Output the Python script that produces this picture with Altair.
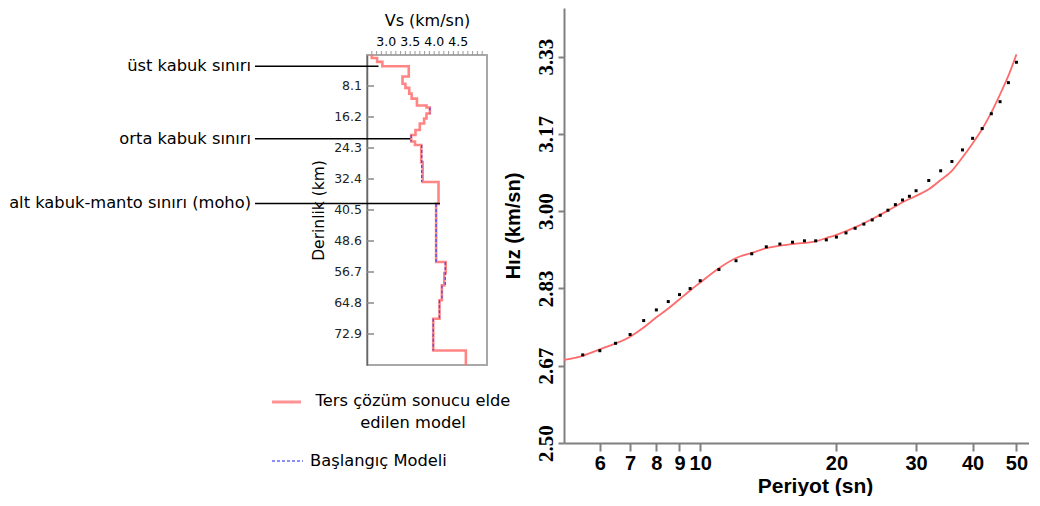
import altair as alt
import pandas as pd

# ---------------- Left panel: Vs-depth profile ----------------
# inversion result: layer top depth (km) and Vs (km/sn)
red_top = [0.0, 0.8, 1.8, 2.95, 5.6, 7.5, 8.6, 10.1, 11.4, 13.2, 13.7, 15.3, 16.6, 17.9,
           19.6, 20.9, 22.6, 23.5, 28.0, 33.2, 38.9, 54.1, 57.0, 60.2, 64.1, 68.9, 77.2]
red_vs = [2.70, 2.81, 2.92, 3.47, 3.34, 3.40, 3.48, 3.53, 3.64, 3.84, 3.91, 3.84, 3.79, 3.70,
          3.61, 3.52, 3.60, 3.73, 3.76, 4.09, 4.04, 4.24, 4.21, 4.16, 4.11, 3.98, 4.66]
depth_bottom = 81.0

# initial model (dashed segments)
blue_top = [13.7, 20.9, 23.5, 38.9, 54.1, 60.2, 64.1, 68.9]
blue_bot = [15.3, 22.6, 33.2, 54.1, 60.2, 64.1, 68.9, 77.2]
blue_vs = [3.91, 3.52, 3.74, 4.04, 4.23, 4.16, 4.11, 3.98]

depth_ticks = [8.1, 16.2, 24.3, 32.4, 40.5, 48.6, 56.7, 64.8, 72.9]
vs_labels = [3.0, 3.5, 4.0, 4.5]
vs_minor = [2.7, 2.8, 2.9, 3.0, 3.1, 3.2, 3.3, 3.4, 3.5, 3.6, 3.7, 3.8, 3.9, 4.0,
            4.1, 4.2, 4.3, 4.4, 4.5, 4.6, 4.7, 4.8, 4.9, 5.0]

ann_labels = ["üst kabuk sınırı", "orta kabuk sınırı", "alt kabuk-manto sınırı (moho)"]
ann_depth = [2.95, 21.9, 38.8]
ann_vs = [2.84, 3.50, 4.12]

legend_red_text = ["Ters çözüm sonucu elde", "edilen model"]
legend_blue_text = "Başlangıç Modeli"

# ---------------- Right panel: dispersion curve ----------------
obs_period = [5.5, 6, 6.5, 7, 7.5, 8, 8.5, 9, 9.5, 10, 11, 12, 13, 14, 15, 16, 17, 18, 19, 20,
              21, 22, 23, 24, 25, 26, 27, 28, 29, 30, 32, 34, 36, 38, 40, 42, 44, 46, 48, 50]
obs_vel = [2.690, 2.699, 2.715, 2.734, 2.764, 2.787, 2.805, 2.820, 2.833, 2.850,
           2.874, 2.893, 2.908, 2.923, 2.929, 2.933, 2.936, 2.936, 2.938, 2.944,
           2.953, 2.963, 2.972, 2.981, 2.991, 3.002, 3.014, 3.024, 3.032, 3.044,
           3.066, 3.087, 3.107, 3.132, 3.157, 3.178, 3.210, 3.236, 3.277, 3.321]

model_period = [5, 5.5, 6, 7, 7.5, 8, 8.5, 9, 9.5, 10, 11, 12, 13, 14, 16, 18, 19, 20, 22, 24,
                26, 28, 30, 32, 34, 36, 38, 40, 42, 44, 46, 48, 50]
model_vel = [2.679, 2.688, 2.702, 2.729, 2.749, 2.771, 2.790, 2.810, 2.829, 2.846,
             2.877, 2.899, 2.910, 2.920, 2.929, 2.935, 2.942, 2.949, 2.965, 2.983,
             3.001, 3.019, 3.033, 3.047, 3.067, 3.087, 3.116, 3.146, 3.177, 3.213,
             3.252, 3.292, 3.338]

period_ticks = [6, 7, 8, 9, 10, 20, 30, 40, 50]
vel_ticks = [2.5, 2.6667, 2.8333, 3.0, 3.1667, 3.3333]

# ---------------- tables ----------------
red_bot = red_top[1:] + [depth_bottom]
rows = []
for i, (t, b, v) in enumerate(zip(red_top, red_bot, red_vs)):
    rows.append({"vs": v, "depth": t, "o": 2 * i})
    rows.append({"vs": v, "depth": b, "o": 2 * i + 1})
prof_df = pd.DataFrame(rows)
blue_df = pd.DataFrame({"vs": blue_vs, "top": blue_top, "bot": blue_bot})
tick_df = pd.DataFrame({"d": depth_ticks, "lab": [f"{d:.1f}" for d in depth_ticks]})
vs_lab_df = pd.DataFrame({"vs": vs_labels, "lab": [f"{v:.1f}" for v in vs_labels]})
minor_df = pd.DataFrame({"vs": vs_minor})
ann_df = pd.DataFrame({"label": ann_labels, "depth": ann_depth, "vs": ann_vs})
one = pd.DataFrame({"k": [0]})
obs_df = pd.DataFrame({"T": obs_period, "v": obs_vel})
model_df = pd.DataFrame({"T": model_period, "v": model_vel})

FONT = "DejaVu Sans"

vs_scale = alt.Scale(domain=[2.6, 5.1], nice=False, zero=False)
dep_scale = alt.Scale(domain=[0, depth_bottom], reverse=True, nice=False, zero=False)

x_axis_l = alt.Axis(
    orient="top", values=vs_labels, labels=False, ticks=False, domain=False, grid=False,
    title="Vs (km/sn)", titleFont=FONT, titleFontSize=16, titleFontWeight="normal",
    titleColor="black", titlePadding=27)
y_axis_l = alt.Axis(
    values=depth_ticks, labels=False, ticks=False, grid=False,
    domainColor="#666", domainWidth=1.5,
    title="Derinlik (km)", titleFont=FONT, titleFontSize=15.5, titleFontWeight="normal",
    titleColor="black", titlePadding=41)

red_line = alt.Chart(prof_df).mark_line(color="#ff7070", strokeWidth=2.6, opacity=0.85).encode(
    x=alt.X("vs:Q", scale=vs_scale, axis=x_axis_l),
    y=alt.Y("depth:Q", scale=dep_scale, axis=y_axis_l),
    order=alt.Order("o:Q"))
blue_line = alt.Chart(blue_df).mark_rule(color="#4b4bf0", strokeWidth=1.3, strokeDash=[3, 2]).encode(
    x="vs:Q", y="top:Q", y2="bot:Q")
# depth ticks (inward) and their labels
in_ticks = alt.Chart(tick_df).mark_rule(color="#8a8a8a", strokeWidth=1.5).encode(
    y="d:Q", x=alt.value(0), x2=alt.value(7))
depth_labels = alt.Chart(tick_df).mark_text(
    align="right", baseline="middle", font=FONT, fontSize=12.5, color="#222").encode(
    y="d:Q", x=alt.value(-5), text="lab:N")
# Vs ticks (top) and their labels
top_ticks = alt.Chart(minor_df).mark_rule(color="#9a9a9a", strokeWidth=1).encode(
    x="vs:Q", y=alt.value(-4), y2=alt.value(0))
vs_tick_labels = alt.Chart(vs_lab_df).mark_text(
    align="center", baseline="bottom", font=FONT, fontSize=12.5, color="black").encode(
    x="vs:Q", y=alt.value(-6), text="lab:N")
ann_rules = alt.Chart(ann_df).mark_rule(color="black", strokeWidth=1.5).encode(
    y="depth:Q", x="vs:Q", x2=alt.value(-112))
ann_texts = alt.Chart(ann_df).mark_text(
    align="right", baseline="middle", font=FONT, fontSize=16.3, color="black").encode(
    y="depth:Q", x=alt.value(-116), text="label:N")

leg_red = alt.Chart(one).mark_rule(color="#ff8080", strokeWidth=3, opacity=0.85).encode(
    x=alt.value(-95), x2=alt.value(-66), y=alt.value(347))
leg_red_txt = alt.Chart(one).mark_text(
    align="center", baseline="top", font=FONT, fontSize=16.3, lineHeight=22, color="black").encode(
    x=alt.value(46), y=alt.value(338), text=alt.value(legend_red_text))
leg_blue = alt.Chart(one).mark_rule(color="#6a6af5", strokeWidth=1.3, strokeDash=[3, 2]).encode(
    x=alt.value(-95), x2=alt.value(-64), y=alt.value(406))
leg_blue_txt = alt.Chart(one).mark_text(
    align="left", baseline="middle", font=FONT, fontSize=16.3, color="black").encode(
    x=alt.value(-57), y=alt.value(406), text=alt.value(legend_blue_text))

left = alt.layer(red_line, blue_line, in_ticks, depth_labels, top_ticks, vs_tick_labels,
                 ann_rules, ann_texts, leg_red, leg_red_txt, leg_blue, leg_blue_txt).properties(
    width=120, height=310,
    view=alt.ViewBackground(stroke="#a8a8a8", strokeWidth=2))

# an invisible strip above the profile, so the profile's top axis sits below the
# top edge of the right panel
spacer = alt.Chart(one).mark_rule(opacity=0).encode(
    x=alt.value(0), x2=alt.value(1), y=alt.value(0)).properties(
    width=120, height=3, view=alt.ViewBackground(stroke=None))
left_col = alt.vconcat(spacer, left, spacing=0)

# ---------------- right chart ----------------
x_scale_r = alt.Scale(type="log", domain=[5, 53.3], nice=False)
y_scale_r = alt.Scale(domain=[2.5, 3.438], nice=False, zero=False)
x_axis_r = alt.Axis(
    values=period_ticks, format="d", title="Periyot (sn)",
    titleFont="Liberation Sans", titleFontSize=21, titleFontWeight="bold", titleColor="black",
    titlePadding=2, titleX=251,
    labelFont="Liberation Sans", labelFontSize=20, labelFontWeight="bold", labelColor="black",
    labelPadding=2, labelOverlap=False, labelFlush=False,
    tickSize=8, tickWidth=2, tickColor="#808080", domainColor="#808080", domainWidth=2, grid=False)
y_axis_r = alt.Axis(
    values=vel_ticks, format=".2f", title="Hız (km/sn)",
    titleFont="Liberation Sans", titleFontSize=20, titleFontWeight="bold", titleColor="black",
    titlePadding=12,
    labelFont="Liberation Serif", labelFontSize=21, labelFontWeight="bold", labelColor="black",
    labelAngle=270, labelAlign="center", labelBaseline="bottom", labelPadding=2,
    labelOverlap=False,
    tickSize=6, tickWidth=2, tickColor="#808080", domainColor="#808080", domainWidth=2, grid=False)

model_line = alt.Chart(model_df).mark_line(
    color="#ff6b6b", strokeWidth=1.8, interpolate="monotone").encode(
    x=alt.X("T:Q", scale=x_scale_r, axis=x_axis_r),
    y=alt.Y("v:Q", scale=y_scale_r, axis=y_axis_r))
obs_pts = alt.Chart(obs_df).mark_square(color="black", size=9, opacity=1).encode(
    x="T:Q", y="v:Q")

right = alt.layer(model_line, obs_pts).properties(
    width=465, height=435, view=alt.ViewBackground(stroke=None))

chart = alt.hconcat(left_col, right, spacing=-9).properties(
    padding=0).configure(background="white")

chart.save("out.html", embed_options={"renderer": "svg", "actions": False})
